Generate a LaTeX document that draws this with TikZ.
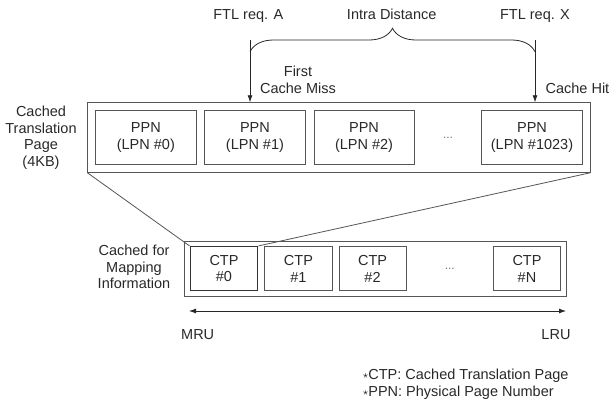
\documentclass[tikz,border=0pt]{standalone}
\usepackage{fontspec}
\setmainfont{Liberation Sans}
\usetikzlibrary{positioning, arrows.meta, fit, calc, decorations.pathreplacing}
\definecolor{linegray}{RGB}{85,85,85}
\definecolor{textgray}{RGB}{40,40,40}
\newcommand{\fnstar}{\raisebox{0.8pt}{\fontsize{11}{11}\selectfont$\star$}}

\begin{document}
\begin{tikzpicture}[
  x=1pt, y=-1pt,
  every node/.style={font=\fontsize{14.5}{16.5}\selectfont, text=textgray},
  lbl/.style={align=center, inner sep=0pt},
  ppnbox/.style={draw=linegray, line width=0.8pt, minimum width=100.3pt,
                 minimum height=53.6pt, align=center, inner sep=0pt},
  ctpbox/.style={draw=linegray, line width=0.8pt, minimum width=67.3pt,
                 minimum height=44pt, align=center, inner sep=0pt},
  frame/.style={draw=linegray, line width=0.8pt, inner sep=0pt},
  dots/.style={font=\fontsize{12}{12}\selectfont, text=black!55, inner sep=0pt},
  arr/.style={-{Latex[length=7pt, width=5pt]}, line width=0.8pt, draw=textgray},
  dblarr/.style={{Latex[length=7pt, width=5pt]}-{Latex[length=7pt, width=5pt]},
                 line width=0.8pt, draw=textgray},
  distbrace/.style={decorate, decoration={brace, amplitude=23.4pt},
                    line width=0.8pt, draw=textgray},
]
  \useasboundingbox (0,0) rectangle (611,401);

  % cached translation page
  \node[ppnbox] (ppn0) at (145.85,137.5) {PPN\\(LPN \#0)};
  \node[ppnbox, right=8pt of ppn0] (ppn1) {PPN\\(LPN \#1)};
  \node[ppnbox, right=8pt of ppn1] (ppn2) {PPN\\(LPN \#2)};
  \node[ppnbox] (ppn1023) at (532,137.5) {PPN\\(LPN \#1023)};
  \node[dots] (pdots) at ($(ppn2.east)!0.5!(ppn1023.west)$) {...};
  \node[frame, fit=(ppn0)(ppn1023), inner sep=7.6pt] (page) {};
  \node[lbl] (pagelbl) at (41,137.5) {Cached\\Translation\\Page\\(4KB)};

  % cached mapping information
  \node[ctpbox, line width=1.5pt, draw=black!80] (ctp0) at (224,268.7) {CTP\\\#0};
  \node[ctpbox, right=6pt of ctp0] (ctp1) {CTP\\\#1};
  \node[ctpbox, right=6pt of ctp1] (ctp2) {CTP\\\#2};
  \node[ctpbox] (ctpN) at (527,268.7) {CTP\\\#N};
  \node[dots] (cdots) at ($(ctp2.east)!0.5!(ctpN.west)$) {...};
  \node[frame, fit=(ctp0)(ctpN), inner sep=5pt] (cache) {};
  \node[lbl] (cachelbl) at (134,267) {Cached for\\Mapping\\Information};

  \draw[line width=0.8pt, draw=linegray] (page.south west) -- (ctp0.north west);
  \draw[line width=0.8pt, draw=linegray] (page.south east) -- (ctp0.north east);

  % requests and distance
  \coordinate (topA) at (250,40);
  \coordinate (topX) at (535,40);
  \draw[distbrace] ([yshift=-11.7pt]topA) -- ([yshift=-11.7pt]topX);
  \draw[arr] (topA) -- (topA |- page.north);
  \draw[arr] (topX) -- (topX |- page.north);
  \node[lbl, anchor=base] (ftlA) at (248.3,20) {FTL req. A};
  \node[lbl, anchor=base] (intra) at (391.7,19.5) {Intra Distance};
  \node[lbl, anchor=base] (ftlX) at (535,20) {FTL req. X};
  \node[lbl] (miss) at (298,80) {First\\Cache Miss};
  \node[lbl, anchor=base east] (hit) at (609.5,93.3) {Cache Hit};

  % recency
  \coordinate (mru) at (189,311);
  \coordinate (lru) at (566,311);
  \draw[dblarr] (mru) -- (lru);
  \node[lbl, anchor=base west] (mrulbl) at (181,339) {MRU};
  \node[lbl, anchor=base east] (lrulbl) at (570.7,339) {LRU};

  \node[lbl, align=left, anchor=north west] (notes) at (362.7,369)
    {\fnstar CTP: Cached Translation Page\\\fnstar PPN: Physical Page Number};
\end{tikzpicture}
\end{document}
